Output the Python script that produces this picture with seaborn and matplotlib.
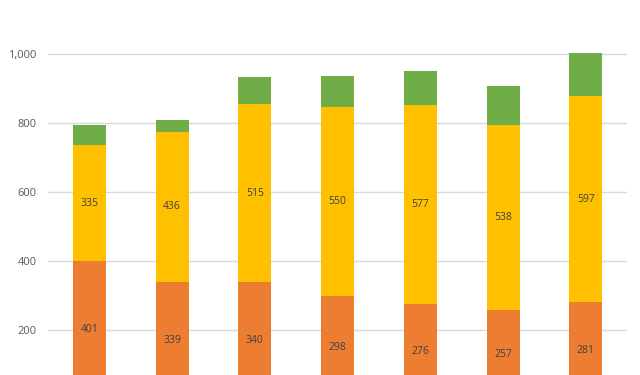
import numpy as np
import pandas as pd
import matplotlib
matplotlib.use('Agg')
import matplotlib.pyplot as plt
import seaborn as sns

# values
categories = ['1', '2', '3', '4', '5', '6', '7']
orange_vals = [401, 339, 340, 298, 276, 257, 281]
yellow_vals = [335, 436, 515, 550, 577, 538, 597]
green_vals = [59, 35, 78, 90, 97, 113, 125]

orange = '#ED7D31'
yellow = '#FFC000'
green = '#70AD47'

df = pd.DataFrame({
	'cat': categories,
	'orange': orange_vals,
	'yellow': yellow_vals,
	'green': green_vals,
})
df['mid'] = df['orange'] + df['yellow']
df['total'] = df['mid'] + df['green']

sns.set_style('white')
plt.rcParams['font.family'] = ['Open Sans', 'DejaVu Sans']

fig = plt.figure(figsize=(6.4, 3.75), dpi=100)
ax = fig.add_axes([0.075, 0.0, 0.905, 1.0])

# stacked bars drawn as overlapping cumulative totals
bar_kw = dict(width=0.4, saturation=1, linewidth=0, ax=ax)
sns.barplot(data=df, x='cat', y='total', color=green, zorder=2, **bar_kw)
sns.barplot(data=df, x='cat', y='mid', color=yellow, zorder=3, **bar_kw)
sns.barplot(data=df, x='cat', y='orange', color=orange, zorder=4, **bar_kw)

# data labels in the middle of orange and yellow segments
for i, row in df.iterrows():
	ax.text(i, row['orange'] / 2, f"{row['orange']}", ha='center', va='center',
		fontsize=7.5, color='#404040', zorder=5)
	ax.text(i, row['orange'] + row['yellow'] / 2, f"{row['yellow']}", ha='center', va='center',
		fontsize=7.5, color='#404040', zorder=5)

ax.set_ylim(70, 1157)
ax.set_xlim(-0.5, 6.5)
ax.set_yticks([200, 400, 600, 800, 1000])
ax.set_yticklabels(['200', '400', '600', '800', '1,000'])
ax.yaxis.grid(True, color='#D9D9D9', linewidth=1, zorder=0)
ax.set_axisbelow(True)
ax.tick_params(axis='y', length=0, pad=8, labelsize=8, labelcolor='#595959')
ax.set_xticks([])
ax.set_xlabel('')
ax.set_ylabel('')
sns.despine(ax=ax, left=True, bottom=True)

fig.savefig('out.png', dpi=100)
